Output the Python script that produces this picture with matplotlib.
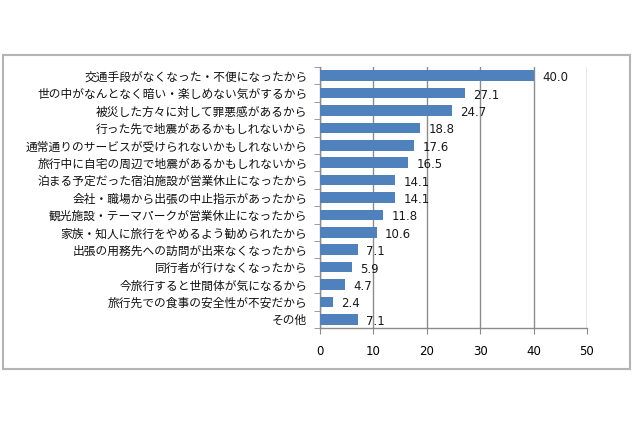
import numpy as np
import matplotlib.pyplot as plt
from matplotlib.patches import Rectangle

plt.rcParams['font.family'] = ['Noto Sans CJK JP', 'DejaVu Sans']

# Data
reasons = [
    '交通手段がなくなった・不便になったから',
    '世の中がなんとなく暗い・楽しめない気がするから',
    '被災した方々に対して罪悪感があるから',
    '行った先で地震があるかもしれないから',
    '通常通りのサービスが受けられないかもしれないから',
    '旅行中に自宅の周辺で地震があるかもしれないから',
    '泊まる予定だった宿泊施設が営業休止になったから',
    '会社・職場から出張の中止指示があったから',
    '観光施設・テーマパークが営業休止になったから',
    '家族・知人に旅行をやめるよう勧められたから',
    '出張の用務先への訪問が出来なくなったから',
    '同行者が行けなくなったから',
    '今旅行すると世間体が気になるから',
    '旅行先での食事の安全性が不安だから',
    'その他',
]
values = [40.0, 27.1, 24.7, 18.8, 17.6, 16.5, 14.1, 14.1, 11.8, 10.6, 7.1, 5.9, 4.7, 2.4, 7.1]
xticks = [0, 10, 20, 30, 40, 50]

fig = plt.figure(figsize=(6.4, 4.26), dpi=100)

# outer chart frame
fig.patches.append(Rectangle((3 / 640, 1 - 369 / 426), 627 / 640, 314 / 426,
                             transform=fig.transFigure, fill=False,
                             edgecolor='#b4b4b4', linewidth=1.5))

ax = fig.add_axes([320 / 640, 1 - 328 / 426, 267 / 640, 261 / 426])

y = np.arange(len(reasons))
ax.barh(y, values, height=0.62, color='#4f81bd', zorder=3)

for yi, v in zip(y, values):
    ax.text(v + 1.6, yi + 0.12, f'{v:.1f}', va='center', ha='left',
            fontsize=8.5, color='#1a1a1a', family=['DejaVu Sans'])

ax.set_xlim(0, 50)
ax.set_ylim(len(reasons) - 0.5, -0.5)
ax.set_xticks(xticks)
ax.set_xticklabels([str(t) for t in xticks], fontsize=8.5, family=['DejaVu Sans'])
ax.set_yticks(y)
ax.set_yticklabels(reasons, fontsize=8.45, color='#111111')
ax.set_yticks(np.arange(-0.5, len(reasons), 1), minor=True)

ax.tick_params(axis='y', which='major', length=0, pad=9)
ax.tick_params(axis='y', which='minor', length=4, color='#8c8c8c', direction='out')
ax.tick_params(axis='x', length=4, color='#8c8c8c', direction='out', pad=8)

ax.xaxis.grid(True, color='#8c8c8c', linewidth=1.0, zorder=0)
for s in ['top', 'right']:
    ax.spines[s].set_visible(False)
for s in ['left', 'bottom']:
    ax.spines[s].set_color('#8c8c8c')
    ax.spines[s].set_linewidth(1.0)

fig.savefig('out.png', dpi=100)
